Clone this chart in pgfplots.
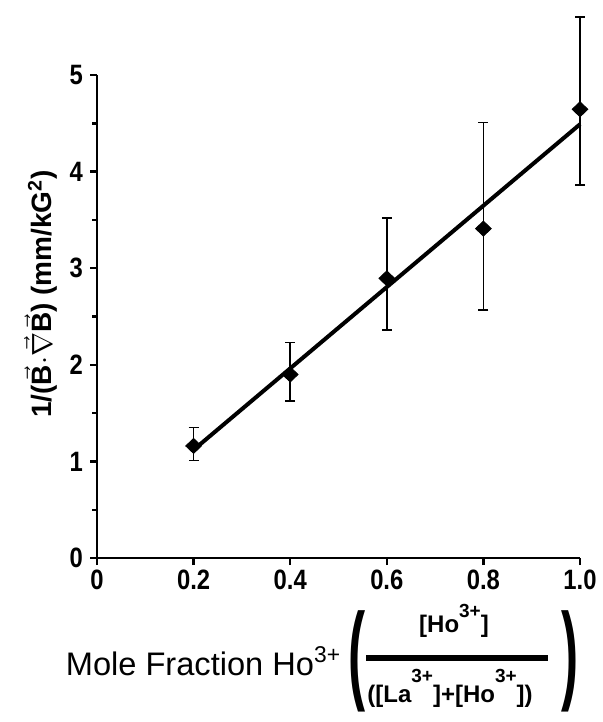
\documentclass[border=0pt]{standalone}
\usepackage{fontspec}
\setmainfont{Liberation Sans}
\newfontfamily\condfont[FakeStretch=0.85]{Liberation Sans}
\usepackage{graphicx}
\usepackage{pgfplots}
\pgfplotsset{compat=1.18}
\newcommand\vB{\ensuremath{\vec{\mbox{\bfseries B}}}}
\newcommand\hsup[2]{\raisebox{#1}{\fontsize{9.5}{9.5}\selectfont #2}}
\begin{document}
\begin{tikzpicture}
\begin{axis}[
  at={(0,0)}, anchor=origin,
  scale only axis, width=241.5pt, height=241.5pt,
  xmin=0, xmax=1, ymin=0, ymax=5,
  axis x line*=bottom, axis y line*=left,
  axis line style={line width=1.4pt},
  xtick={0,0.2,0.4,0.6,0.8,1.0},
  xticklabels={0,0.2,0.4,0.6,0.8,1.0},
  ytick={0,1,2,3,4,5},
  yticklabels={0,1,2,3,4,5},
  minor ytick={0.5,1.5,2.5,3.5,4.5},
  tick align=outside,
  major tick length=3.5pt, minor tick length=2.5pt,
  every tick/.style={black, line width=1.2pt},
  tick label style={font=\condfont\bfseries\fontsize{14}{14}\selectfont},
  xticklabel style={yshift=1pt},
  clip=false,
]
\addplot[black, line width=2pt] coordinates {(0.2,1.12) (1.0,4.49)};
\addplot[only marks, mark=diamond*, mark size=3.75pt, black,
  mark options={xscale=1.4},
  error bars/.cd, y dir=both, y explicit,
  error bar style={line width=0.8pt},
  error mark options={rotate=90, mark size=2.5pt, line width=0.8pt}]
 coordinates {
 (0.2,1.16) += (0,0.19) -= (0,0.15)
 (0.4,1.90) += (0,0.33) -= (0,0.275)
 (0.6,2.895) += (0,0.625) -= (0,0.535)
 (0.8,3.41) += (0,1.10) -= (0,0.84)
 (1.0,4.645) += (0,0.955) -= (0,0.785)
 };
\end{axis}
\node[rotate=90, font=\bfseries\fontsize{14}{14}\selectfont] at (-28pt,132pt)
  {1/(\vB$\cdot\vec{\nabla}$\vB) (mm/kG\textsuperscript{2})};
\node[anchor=base, font=\fontsize{16.3}{16.3}\selectfont] at (53.25pt,-58.5pt) {Mole Fraction Ho\textsuperscript{3+}};
\node[anchor=base, font=\bfseries\fontsize{12}{12}\selectfont] at (178.5pt,-37pt) {[Ho\hsup{7.5pt}{3+}]};
\node[anchor=base, font=\bfseries\fontsize{12}{12}\selectfont] at (176.5pt,-72pt) {([La\hsup{10pt}{3+}]+[Ho\hsup{10pt}{3+}])};
\draw[line width=3pt] (134.5pt,-50pt) -- (225.5pt,-50pt);
\node at (130pt,-51.5pt) {\scalebox{1.6}[3.4]{\bfseries\fontsize{16}{16}\selectfont(}};
\node at (236.5pt,-51.5pt) {\scalebox{1.6}[3.4]{\bfseries\fontsize{16}{16}\selectfont)}};
\pgfresetboundingbox
\path[use as bounding box] (-48.5pt,-82pt) rectangle (252.5pt,279pt);
\end{tikzpicture}
\end{document}
